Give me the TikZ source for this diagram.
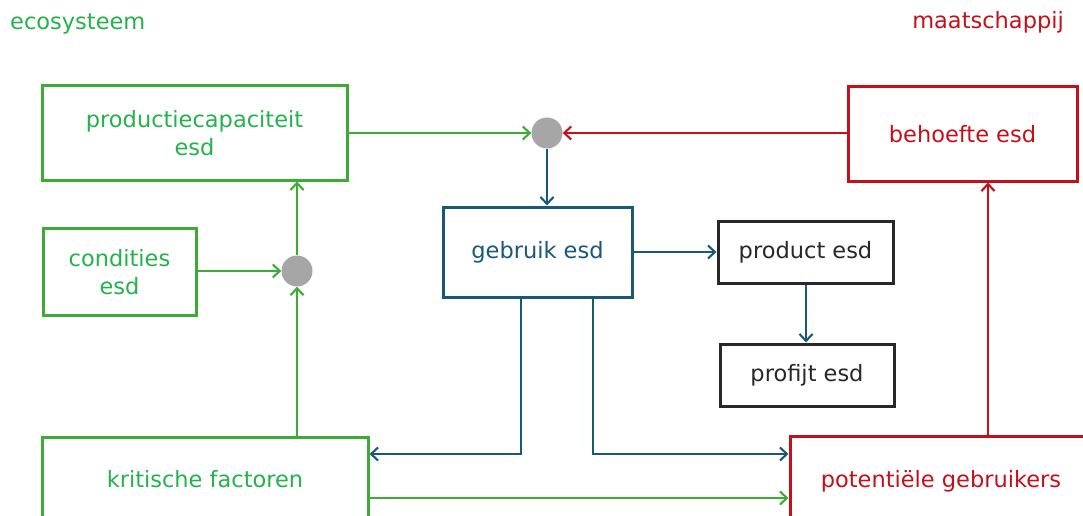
\documentclass[tikz,border=0pt]{standalone}
\usepackage{fontspec}
\setmainfont{DejaVu Sans}
\usetikzlibrary{arrows.meta}
\definecolor{ecogreen}{RGB}{60,172,52}
\definecolor{ecotext}{RGB}{36,178,76}
\definecolor{socred}{RGB}{196,16,26}
\definecolor{useblue}{RGB}{26,88,120}
\definecolor{darkbox}{RGB}{40,40,40}
\definecolor{hubgray}{RGB}{166,166,166}
\begin{document}
\begin{tikzpicture}[x=1pt,y=-1pt,
  font=\fontsize{22.5}{28}\selectfont,
  box/.style={draw, rectangle, line width=3pt, inner sep=0pt, align=center},
  greenbox/.style={box, draw=ecogreen, text=ecotext},
  redbox/.style={box, draw=socred, text=socred},
  bluebox/.style={box, draw=useblue, text=useblue},
  blackbox/.style={box, draw=darkbox, text=darkbox},
  hub/.style={circle, fill=hubgray, minimum size=31pt, inner sep=0pt},
  conn/.style={line width=2.1pt, -{Straight Barb[length=7pt,width=13pt,line width=2.1pt]}},
  gconn/.style={conn, draw=ecogreen},
  rconn/.style={conn, draw=socred},
  bconn/.style={conn, draw=useblue}
]
\useasboundingbox (0,0) rectangle (1083,516);
\clip (0,0) rectangle (1083,516);

\node[anchor=base west, text=ecotext, inner sep=0pt] (eco) at (10,30) {ecosysteem};
\node[anchor=base east, text=socred, inner sep=0pt] (soc) at (1064,29) {maatschappij};

\node[greenbox, minimum width=305pt, minimum height=94pt] (prod) at (194.5,133) {productiecapaciteit\\esd};
\node[greenbox, minimum width=153pt, minimum height=87pt] (cond) at (119.5,272) {condities\\esd};
\node[greenbox, minimum width=326pt, minimum height=84pt] (krit) at (205,479) {kritische factoren};
\node[bluebox, minimum width=189pt, minimum height=90pt] (gebr) at (537.5,252) {gebruik esd};
\node[blackbox, minimum width=175pt, minimum height=62pt] (product) at (805.5,252) {product esd};
\node[blackbox, minimum width=174pt, minimum height=62pt] (profijt) at (807,375) {profijt esd};
\node[redbox, minimum width=229pt, minimum height=94pt] (beh) at (962.5,134) {behoefte esd};
\node[redbox, minimum width=302pt, minimum height=90pt] (pot) at (941,481) {potentiële gebruikers};

\node[hub] (hubA) at (547,133) {};
\node[hub] (hubB) at (297,271) {};

\coordinate (rb) at ([xshift=25.5pt]beh.south);
\coordinate (gl) at ([xshift=-16.5pt]gebr.south);
\coordinate (gr) at ([xshift=55.5pt]gebr.south);
\coordinate (ku) at ([yshift=25pt]krit.east);
\coordinate (kd) at ([yshift=-19pt]krit.east);
\coordinate (pu) at ([yshift=27pt]pot.west);
\coordinate (pp) at ([xshift=0.5pt]product.south);

\draw[gconn] (prod.east |- hubA.west) -- (hubA.west);
\draw[rconn] (beh.west |- hubA.east) -- (hubA.east);
\draw[bconn] (hubA.south) -- (hubA.south |- gebr.north);
\draw[gconn] (cond.east |- hubB.west) -- (hubB.west);
\draw[gconn] (hubB.north) -- (hubB.north |- prod.south);
\draw[gconn] (hubB.south |- krit.north) -- (hubB.south);
\draw[bconn] (gebr.east) -- (product.west);
\draw[bconn] (pp) -- (pp |- profijt.north);
\draw[bconn] (gl) |- (ku);
\draw[bconn] (gr) |- (pu);
\draw[gconn] (kd) -- (kd -| pot.west);
\draw[rconn] (rb |- pot.north) -- (rb);
\end{tikzpicture}
\end{document}
